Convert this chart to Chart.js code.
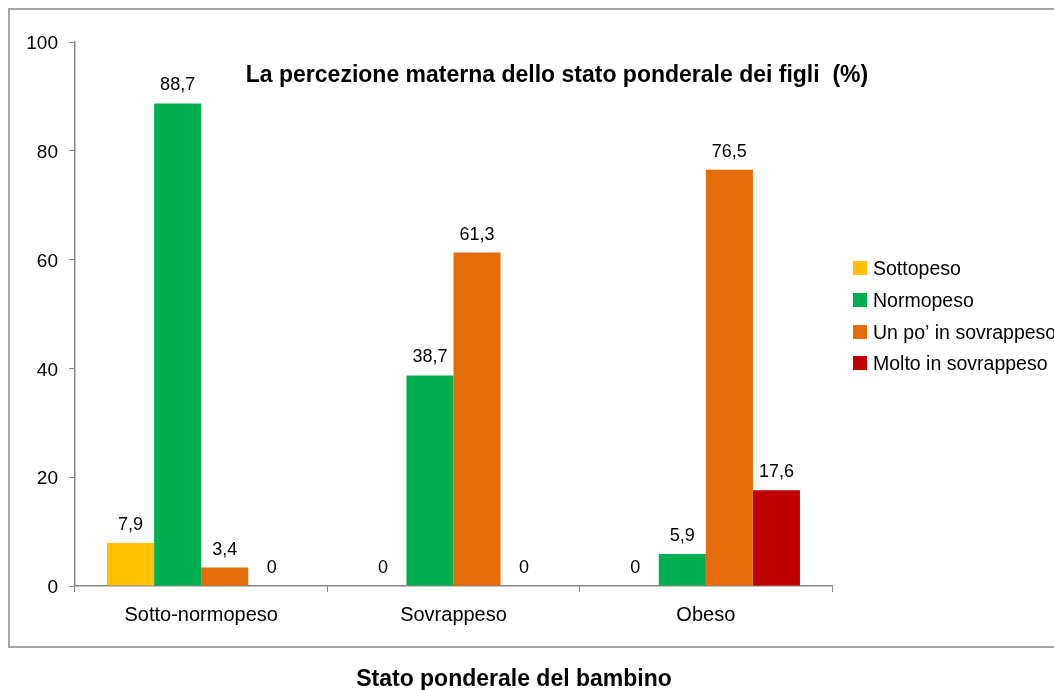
<!DOCTYPE html>
<html>
<head>
<meta charset="utf-8">
<script src="https://cdn.jsdelivr.net/npm/chart.js@4.4.0/dist/chart.umd.min.js"></script>
<style>
  html, body { margin: 0; padding: 0; background: #fff; overflow: hidden; }
  canvas { display: block; }
</style>
</head>
<body>
<canvas id="chart" width="1054" height="690" style="width:1054px;height:690px"></canvas>
<script>
const categories = ["Sotto-normopeso", "Sovrappeso", "Obeso"];
const seriesNames = ["Sottopeso", "Normopeso", "Un po\u2019 in sovrappeso", "Molto in sovrappeso"];
const sottopeso = [7.9, 0, 0];
const normopeso = [88.7, 38.7, 5.9];
const unPoSovrappeso = [3.4, 61.3, 76.5];
const moltoSovrappeso = [0, 0, 17.6];
const yTicks = [0, 20, 40, 60, 80, 100];
const chartTitle = "La percezione materna dello stato ponderale dei figli  (%)";
const xTitle = "Stato ponderale del bambino";

const colors = ['#FFC000', '#00B050', '#E46C0A', '#C00000'];
const FONT = 'Arial, "Liberation Sans", sans-serif';

// frame, title, axis title, legend and value labels
const extras = {
  id: 'extras',
  beforeDraw(chart) {
    const c = chart.ctx;
    c.save();
    c.strokeStyle = '#a6a6a6';
    c.lineWidth = 2;
    c.strokeRect(9, 9, 1100, 638);
    c.restore();
  },
  afterDatasetsDraw(chart) {
    const c = chart.ctx;
    c.save();
    c.fillStyle = '#000';
    c.font = '18px ' + FONT;
    c.textAlign = 'center';
    c.textBaseline = 'alphabetic';
    chart.data.datasets.forEach((ds, i) => {
      chart.getDatasetMeta(i).data.forEach((bar, j) => {
        c.fillText(String(ds.data[j]).replace('.', ','), bar.x, bar.y - 13);
      });
    });

    c.font = 'bold 23px ' + FONT;
    c.fillText(chartTitle, 557, 82);
    c.fillText(xTitle, 514, 686);

    // legend
    c.textAlign = 'left';
    c.font = '19.5px ' + FONT;
    const rows = [268, 300, 332, 363];
    chart.data.datasets.forEach((ds, i) => {
      const y = rows[i];
      c.fillStyle = ds.backgroundColor;
      c.fillRect(853, y - 7, 14, 14);
      c.fillStyle = '#000';
      c.fillText(ds.label, 873, y + 7);
    });
    c.restore();
  }
};

const ctx = document.querySelector('#chart').getContext('2d');
const chart = new Chart(ctx, {
  type: 'bar',
  data: {
    labels: categories,
    datasets: [
      { label: seriesNames[0], data: sottopeso, backgroundColor: colors[0] },
      { label: seriesNames[1], data: normopeso, backgroundColor: colors[1] },
      { label: seriesNames[2], data: unPoSovrappeso, backgroundColor: colors[2] },
      { label: seriesNames[3], data: moltoSovrappeso, backgroundColor: colors[3] }
    ]
  },
  options: {
    responsive: false,
    animation: false,
    devicePixelRatio: 1,
    layout: { padding: { left: 0, top: 42, right: 222, bottom: 0 } },
    datasets: { bar: { barPercentage: 1, categoryPercentage: 0.746 } },
    scales: {
      x: {
        grid: { drawOnChartArea: false, drawTicks: true, tickLength: 6, color: '#868686', offset: true },
        border: { color: '#868686', width: 1.5 },
        ticks: { color: '#000', font: { size: 20, family: FONT }, padding: 11 },
        afterFit(scale) { scale.height = 104; }
      },
      y: {
        min: 0, max: 100,
        afterBuildTicks(scale) { scale.ticks = yTicks.map(v => ({ value: v })); },
        grid: { drawOnChartArea: false, drawTicks: true, tickLength: 6, color: '#868686' },
        border: { color: '#868686', width: 1.5 },
        ticks: { color: '#000', font: { size: 19, family: FONT }, padding: 11, labelOffset: 2 },
        afterFit(scale) { scale.width = 75; }
      }
    },
    plugins: {
      legend: { display: false },
      tooltip: { enabled: false }
    }
  },
  plugins: [extras]
});
</script>
</body>
</html>
